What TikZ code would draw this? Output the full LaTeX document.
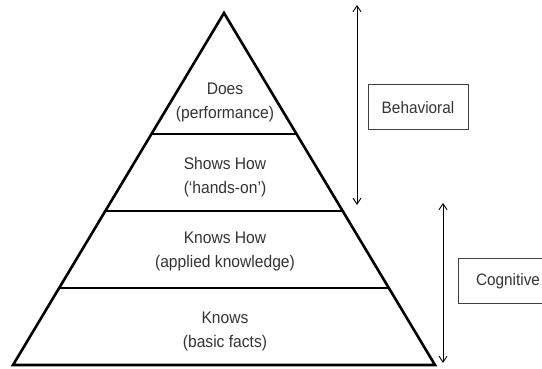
\documentclass[tikz,border=0pt]{standalone}
\usepackage{fontspec}
\setmainfont{Liberation Sans}[FakeStretch=0.93]
\usetikzlibrary{calc,arrows.meta}
\begin{document}
\begin{tikzpicture}[x=1pt,y=1pt,
  pyr/.style={line width=2.6pt, line join=miter},
  level/.style={line width=2.8pt},
  lbl/.style={align=center, font=\fontsize{16.8}{24.5}\selectfont, text=black!80, inner sep=0pt},
  tag/.style={draw=black!75, line width=1pt, font=\fontsize{16.5}{20}\selectfont, text=black!80, minimum height=45pt, inner sep=0pt},
  dbl/.style={line width=0.9pt, {Straight Barb[length=6pt,width=8pt]}-{Straight Barb[length=6pt,width=8pt]}}]
\useasboundingbox (0,0) rectangle (542,369);
\begin{scope}
\clip (0,0) rectangle (542,369);
% pyramid
\coordinate (A) at (224,356);
\coordinate (L) at (13,4);
\coordinate (R) at (435,4);
\draw[pyr] (A) -- (L) -- (R) -- cycle;
\coordinate (l1) at ($(A)!0.3438!(L)$);
\coordinate (r1) at ($(A)!0.3438!(R)$);
\coordinate (l2) at ($(A)!0.5625!(L)$);
\coordinate (r2) at ($(A)!0.5625!(R)$);
\coordinate (l3) at ($(A)!0.78125!(L)$);
\coordinate (r3) at ($(A)!0.78125!(R)$);
\draw[level] (l1) -- (r1);
\draw[level] (l2) -- (r2);
\draw[level] (l3) -- (r3);
% labels
\node[lbl] (does) at (225,266.5) {Does\\(performance)};
\node[lbl] (shows) at (225,192) {Shows How\\(`hands-on')};
\node[lbl] (knowshow) at (225,117.5) {Knows How\\(applied knowledge)};
\node[lbl] (knows) at (225,37.5) {Knows\\(basic facts)};
% arrows
\coordinate (bt) at (357,364);
\coordinate (bb) at (357,164);
\draw[dbl] (bt) -- (bb);
\coordinate (ct) at (443,166);
\coordinate (cb) at (443,6);
\draw[dbl] (ct) -- (cb);
% boxes
\node[tag, minimum width=100pt] (beh) at (418,261.5) {Behavioral};
\node[tag, minimum width=110pt, text width=100pt, align=left] (cog) at (513,87.5) {\hspace*{13pt}Cognitive};
\end{scope}
\end{tikzpicture}
\end{document}
